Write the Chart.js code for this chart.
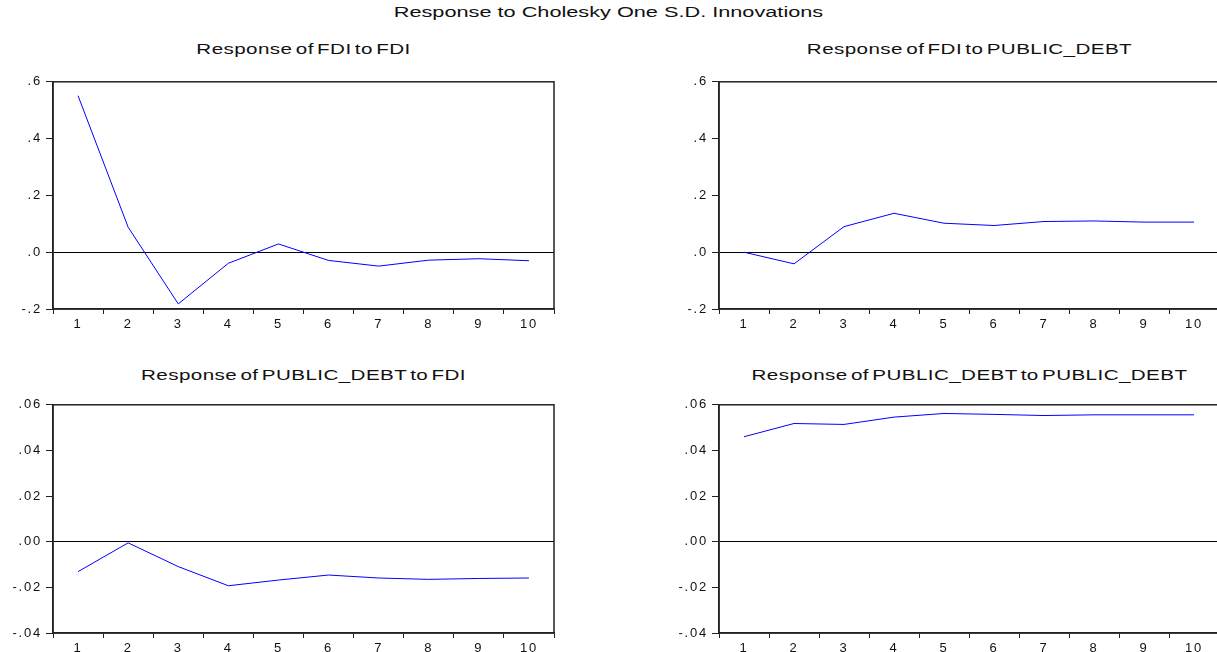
<!DOCTYPE html>
<html>
<head>
<meta charset="utf-8">
<script src="https://cdn.jsdelivr.net/npm/chart.js@4"></script>
<style>
  html, body { margin: 0; padding: 0; background: #fff; overflow: hidden; }
  #page { position: relative; width: 1217px; height: 652px; overflow: hidden; font-family: "Liberation Sans", Arial, sans-serif; color: #111; }
  .panel { position: absolute; }
  /* the reference is stretched sideways, so the titles are too */
  .title { position: absolute; text-align: center; white-space: nowrap; transform-origin: 50% 50%; }
  #main-title { left: 0; width: 1217px; top: 3px; font-size: 15.5px; line-height: 18px; transform: scaleX(1.4); }
  .sub { font-size: 14.5px; letter-spacing: 0.3px; word-spacing: -2px; line-height: 16px; width: 501px; transform: scaleX(1.42); }
</style>
</head>
<body>
<div id="page">
  <div id="main-title" class="title">Response to Cholesky One S.D. Innovations</div>

  <div class="title sub" style="left:53px; top:41px;">Response of FDI to FDI</div>
  <div class="title sub" style="left:719px; top:41px;">Response of FDI to PUBLIC_DEBT</div>
  <div class="title sub" style="left:53px; top:367px;">Response of PUBLIC_DEBT to FDI</div>
  <div class="title sub" style="left:719px; top:367px;">Response of PUBLIC_DEBT to PUBLIC_DEBT</div>

  <div class="panel" style="left:0; top:70px;"><canvas id="c1" width="560" height="270"></canvas></div>
  <div class="panel" style="left:666px; top:70px;"><canvas id="c2" width="553" height="270"></canvas></div>
  <div class="panel" style="left:0; top:393px;"><canvas id="c3" width="560" height="264"></canvas></div>
  <div class="panel" style="left:666px; top:393px;"><canvas id="c4" width="553" height="264"></canvas></div>
</div>

<script>
const periods = ["1", "2", "3", "4", "5", "6", "7", "8", "9", "10"];

// responses
const fdiToFdi = [0.551, 0.088, -0.182, -0.039, 0.029, -0.029, -0.049, -0.028, -0.023, -0.030];
const fdiToDebt = [0.000, -0.041, 0.090, 0.137, 0.102, 0.094, 0.108, 0.110, 0.106, 0.106];
const debtToFdi = [-0.0131, -0.0005, -0.0109, -0.0193, -0.0168, -0.0146, -0.0159, -0.0165, -0.0161, -0.0159];
const debtToDebt = [0.0460, 0.0518, 0.0514, 0.0546, 0.0562, 0.0558, 0.0553, 0.0556, 0.0556, 0.0556];

// y tick values and labels (EViews style, no leading zero)
const fdiTickValues = [-0.2, 0.0, 0.2, 0.4, 0.6];
const fdiTickLabels = ["-.2", ".0", ".2", ".4", ".6"];
const debtTickValues = [-0.04, -0.02, 0.00, 0.02, 0.04, 0.06];
const debtTickLabels = ["-.04", "-.02", ".00", ".02", ".04", ".06"];

const axisColor = "#222";

// box round the plot area + wider letter spacing for tick labels
const frame = {
    id: "frame",
    beforeDraw(chart) {
        chart.ctx.letterSpacing = "1.8px";
    },
    afterDraw(chart) {
        const a = chart.chartArea;
        const ctx = chart.ctx;
        ctx.save();
        ctx.strokeStyle = axisColor;
        ctx.lineWidth = 1.5;
        ctx.strokeRect(a.left, a.top, a.right - a.left, a.bottom - a.top);
        ctx.restore();
        ctx.letterSpacing = "0px";
    }
};

function makeChart(id, values, tickValues, tickLabels, rightPad, bottomPad) {
    const step = tickValues[1] - tickValues[0];
    new Chart(document.getElementById(id), {
        type: "line",
        data: {
            labels: periods,
            datasets: [{
                data: values,
                borderColor: "#0000ff",
                borderWidth: 1,
                pointRadius: 0,
                tension: 0,
                fill: false
            }]
        },
        options: {
            responsive: false,
            animation: false,
            devicePixelRatio: 1,
            layout: { padding: { top: 11, right: rightPad, bottom: bottomPad, left: 0 } },
            plugins: {
                legend: { display: false },
                tooltip: { enabled: false }
            },
            scales: {
                x: {
                    type: "category",
                    offset: true,
                    grid: {
                        offset: true,
                        drawOnChartArea: false,
                        drawTicks: true,
                        tickLength: 5,
                        color: axisColor,
                        tickColor: axisColor,
                        lineWidth: 1
                    },
                    border: { display: true, color: axisColor, width: 1.5 },
                    ticks: {
                        color: "#111",
                        padding: 3,
                        maxRotation: 0,
                        autoSkip: false,
                        font: { family: "Liberation Sans", size: 13 }
                    },
                    afterFit(scale) { scale.height = 24; }
                },
                y: {
                    min: tickValues[0],
                    max: tickValues[tickValues.length - 1],
                    grid: {
                        drawTicks: true,
                        tickLength: 7,
                        tickColor: axisColor,
                        color: c => Math.abs(c.tick.value) < 1e-9 ? "#000" : "rgba(0,0,0,0)",
                        lineWidth: 1
                    },
                    border: { display: true, color: axisColor, width: 1.5 },
                    ticks: {
                        stepSize: step,
                        color: "#111",
                        padding: 4,
                        font: { family: "Liberation Sans", size: 13 },
                        callback: function (value) {
                            const i = tickValues.findIndex(v => Math.abs(v - value) < step / 100);
                            return i >= 0 ? tickLabels[i] : "";
                        }
                    },
                    afterFit(scale) { scale.width = 53; }
                }
            }
        },
        plugins: [frame]
    });
}

makeChart("c1", fdiToFdi, fdiTickValues, fdiTickLabels, 6, 7);
makeChart("c2", fdiToDebt, fdiTickValues, fdiTickLabels, 0, 7);
makeChart("c3", debtToFdi, debtTickValues, debtTickLabels, 6, 0);
makeChart("c4", debtToDebt, debtTickValues, debtTickLabels, 0, 0);
</script>
</body>
</html>
